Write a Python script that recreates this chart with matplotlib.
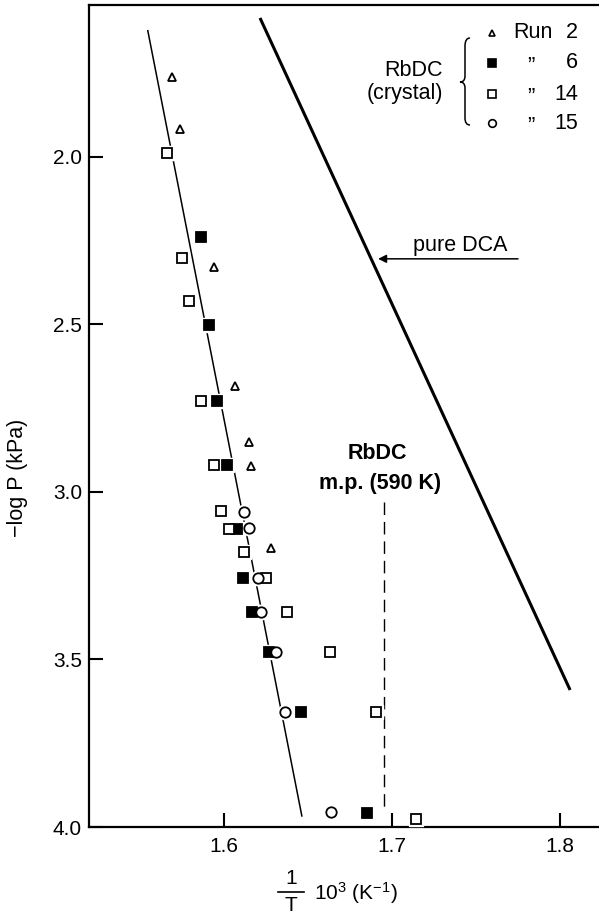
import matplotlib
matplotlib.use("Agg")
import matplotlib.pyplot as plt
from matplotlib.lines import Line2D
from matplotlib.path import Path
from matplotlib.patches import PathPatch

plt.rcParams.update({
    "font.family": ["Liberation Sans", "DejaVu Sans"],
    "mathtext.fontset": "custom",
    "mathtext.rm": "Liberation Sans",
    "mathtext.it": "Liberation Sans:italic",
    "mathtext.bf": "Liberation Sans:bold",
})

# RbDC crystal vapour-pressure runs: x = 1/T * 10^3 (1/K), y = -log P (kPa)
run2_x = [1.569, 1.574, 1.594, 1.6065, 1.615, 1.616, 1.628]
run2_y = [1.761, 1.916, 2.328, 2.684, 2.851, 2.922, 3.167]

run6_x = [1.5863, 1.591, 1.596, 1.602, 1.6076, 1.6115, 1.6165, 1.627, 1.6457, 1.685]
run6_y = [2.240, 2.501, 2.728, 2.919, 3.110, 3.257, 3.357, 3.479, 3.658, 3.957]

run14_x = [1.5663, 1.575, 1.5792, 1.5861, 1.5942, 1.5982, 1.603, 1.6121,
           1.625, 1.6373, 1.6631, 1.6905, 1.7141]
run14_y = [1.989, 2.302, 2.431, 2.728, 2.919, 3.057, 3.110, 3.180,
           3.258, 3.357, 3.479, 3.658, 3.976]

run15_x = [1.6121, 1.6149, 1.6201, 1.622, 1.6308, 1.6363, 1.6637]
run15_y = [3.061, 3.108, 3.257, 3.357, 3.479, 3.658, 3.954]

# straight lines
fit_x = [1.5546, 1.6463]
fit_y = [1.623, 3.967]
dca_x = [1.6214, 1.806]
dca_y = [1.585, 3.591]
mp_x = 1000 / 590
mp_y = [3.03, 3.94]

xticks = [1.6, 1.7, 1.8]
yticks = [2.0, 2.5, 3.0, 3.5, 4.0]

W, H = 599, 921


def px(x, y):
    # pixel position (y down) -> figure fraction
    return x / W, 1 - y / H


fig = plt.figure(figsize=(W / 100, H / 100), dpi=100)
ax = fig.add_axes([89 / W, 1 - 827 / H, 1 - 89 / W, 822 / H])

ax.plot(fit_x, fit_y, color="black", lw=1.1, zorder=2)
ax.plot(dca_x, dca_y, color="black", lw=2.2, solid_capstyle="butt", zorder=2)
ax.plot([mp_x, mp_x], mp_y, color="black", lw=1.0, linestyle=(0, (9, 5)), zorder=2)

series = [
    (run2_x, run2_y, "^", "white", 6.0),
    (run6_x, run6_y, "s", "black", 7.0),
    (run14_x, run14_y, "s", "white", 7.0),
    (run15_x, run15_y, "o", "white", 7.5),
]
# white halo first so the fitted line breaks around the points
for xs, ys, m, fc, ms in series:
    ax.plot(xs, ys, linestyle="none", marker=m, ms=ms + 3, mfc="white",
            mec="white", zorder=3)
for xs, ys, m, fc, ms in series:
    ax.plot(xs, ys, linestyle="none", marker=m, ms=ms, mfc=fc,
            mec="black", mew=1.3, zorder=4)

ax.set_xlim(1.5196, 1.8232)
ax.set_ylim(4.0, 1.5463)
ax.set_xticks(xticks)
ax.set_xticklabels([f"{t:.1f}" for t in xticks])
ax.set_yticks(yticks)
ax.set_yticklabels([f"{t:.1f}" for t in yticks])
ax.tick_params(direction="in", length=10, width=1.5, labelsize=15)
ax.tick_params(axis="x", pad=7)
ax.tick_params(axis="y", pad=5)
ax.spines["right"].set_visible(False)
for s in ["left", "top", "bottom"]:
    ax.spines[s].set_linewidth(1.6)

ax.set_ylabel("\u2212log P (kPa)", fontsize=15.5)
ax.yaxis.set_label_coords((28 - 89) / 510, (827 - 478) / 822)

# x label drawn as a stacked fraction 1/T followed by 10^3 (K^-1)
fig.text(*px(291, 878), "1", fontsize=15, ha="center", va="center")
fig.add_artist(Line2D([px(278, 0)[0], px(304, 0)[0]], [px(0, 892)[1]] * 2,
                      transform=fig.transFigure, color="black", lw=1.2))
fig.text(*px(291, 905), "T", fontsize=15, ha="center", va="center")
fig.text(*px(314, 893), r"10$^{3}$ (K$^{-1}$)", fontsize=15, ha="left", va="center")

# pure DCA arrow
ax.annotate("", xy=(1.6917, 2.304), xytext=(1.775, 2.304),
            arrowprops=dict(arrowstyle="-|>", lw=1.1, color="black",
                            mutation_scale=12, shrinkA=0, shrinkB=0))
ax.text(1.7405, 2.263, "pure DCA", fontsize=15.5, ha="center", va="center")

# melting point label
ax.text(1.6915, 2.885, "RbDC", fontsize=15.5, fontweight="bold", ha="center", va="center")
ax.text(1.6927, 2.975, "m.p. (590 K)", fontsize=15.5, fontweight="bold",
        ha="center", va="center")

# key
fig.text(*px(443, 70), "RbDC", fontsize=15.5, ha="right", va="center")
fig.text(*px(443, 94), "(crystal)", fontsize=15.5, ha="right", va="center")

brace = [(470, 38), (465, 38), (465, 46), (465, 76), (465, 82), (460, 82),
         (465, 82), (465, 88), (465, 118), (465, 125), (470, 125)]
codes = [Path.MOVETO, Path.CURVE3, Path.CURVE3, Path.LINETO, Path.CURVE3, Path.CURVE3,
         Path.CURVE3, Path.CURVE3, Path.LINETO, Path.CURVE3, Path.CURVE3]
fig.add_artist(PathPatch(Path([px(x, y) for x, y in brace], codes),
                         transform=fig.transFigure, fill=False, lw=1.1, color="black"))

key_rows = [("^", "white", 5.0, 33, "2"), ("s", "black", 5.5, 63, "6"),
            ("s", "white", 5.5, 94, "14"), ("o", "white", 5.5, 123, "15")]
for i, (m, fc, ms, yy, num) in enumerate(key_rows):
    fx, fy = px(492, yy)
    fig.add_artist(Line2D([fx], [fy], transform=fig.transFigure, marker=m, ms=ms,
                          mfc=fc, mec="black", mew=1.2, linestyle="none"))
    if i == 0:
        fig.text(*px(513, yy), "Run", fontsize=15.5, ha="left", va="center")
    else:
        fig.text(*px(531, yy + 3), "\u201d", fontsize=16, ha="center", va="center")
    fig.text(*px(578, yy), num, fontsize=15.5, ha="right", va="center")

fig.savefig("out.png", dpi=100)
